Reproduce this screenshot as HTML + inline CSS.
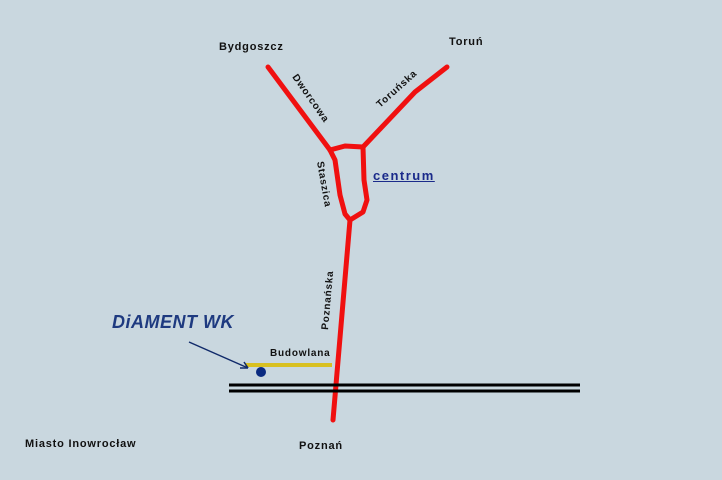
<!DOCTYPE html>
<html><head><meta charset="utf-8"><style>
body{margin:0;width:722px;height:480px;background:#c9d7df;overflow:hidden;position:relative;font-family:"Liberation Sans",sans-serif}
.t{position:absolute;font-size:11px;font-weight:bold;color:#111;white-space:nowrap;letter-spacing:0.8px}
</style></head><body>
<svg width="722" height="480" style="position:absolute;left:0;top:0">
<g fill="none" stroke="#f01010" stroke-width="5" stroke-linecap="round" stroke-linejoin="round">
<path d="M268 67 L330 150"/>
<path d="M447 67 L415 92 L363 147"/>
<path d="M330 150 L345 146 L363 147"/>
<path d="M330 150 L335 160 L340 195 L345 214 L350 220"/>
<path d="M363 147 L364 180 L367 200 L363 212 L350 220"/>
<path d="M350 220 L333 420"/>
</g>
<line x1="245" y1="365" x2="332" y2="365" stroke="#d8c020" stroke-width="4"/>
<line x1="229" y1="385" x2="580" y2="385" stroke="#000" stroke-width="3"/>
<line x1="229" y1="391" x2="580" y2="391" stroke="#000" stroke-width="3"/>
<circle cx="261" cy="372" r="5" fill="#0a2a80"/>
<line x1="189" y1="342" x2="248" y2="368" stroke="#102a6a" stroke-width="1.5"/>
<path d="M248 368 L240 368 M248 368 L244 362" stroke="#102a6a" stroke-width="1.5"/>
<text x="292" y="77" transform="rotate(55 292 77)" font-family="Liberation Sans" font-size="10" font-weight="bold" letter-spacing="0.8" fill="#111">Dworcowa</text>
<text x="380" y="108" transform="rotate(-42 380 108)" font-family="Liberation Sans" font-size="10" font-weight="bold" letter-spacing="0.8" fill="#111">Toruńska</text>
<text x="317" y="162" transform="rotate(80 317 162)" font-family="Liberation Sans" font-size="10" font-weight="bold" letter-spacing="0.8" fill="#111">Staszica</text>
<text x="328" y="330" transform="rotate(-85 328 330)" font-family="Liberation Sans" font-size="10" font-weight="bold" letter-spacing="0.8" fill="#111">Poznańska</text>
</svg>
<div class="t" style="left:219px;top:41px">Bydgoszcz</div>
<div class="t" style="left:449px;top:36px">Toruń</div>
<div class="t" style="left:373px;top:168px;color:#1a2a8a;font-size:13px;text-decoration:underline;letter-spacing:1.5px">centrum</div>
<div class="t" style="left:270px;top:348px;font-size:10px">Budowlana</div>
<div class="t" style="left:112px;top:312px;color:#1e3a80;font-size:18px;font-style:italic;font-weight:900;letter-spacing:0.5px">DiAMENT WK</div>
<div class="t" style="left:25px;top:438px">Miasto Inowrocław</div>
<div class="t" style="left:299px;top:440px">Poznań</div>
</body></html>
